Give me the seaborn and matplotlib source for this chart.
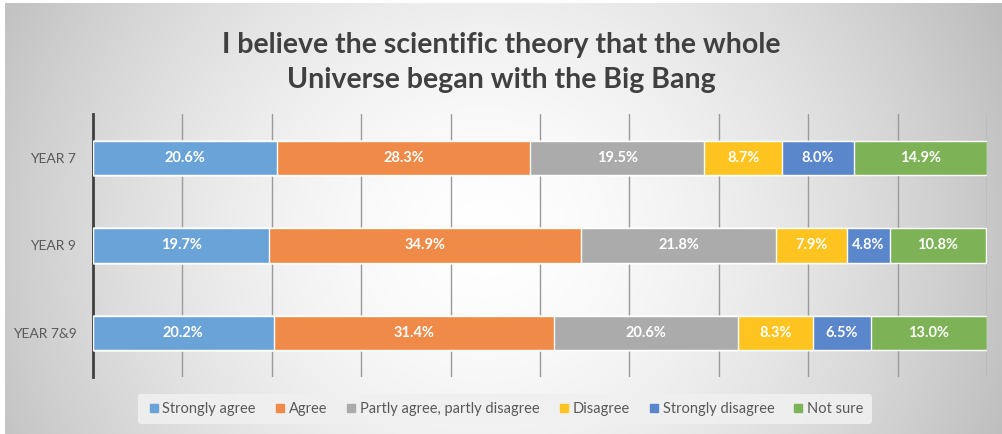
import numpy as np
import pandas as pd
import matplotlib
matplotlib.use("Agg")
import matplotlib.pyplot as plt
from matplotlib.lines import Line2D
import seaborn as sns

# Survey responses (% of students) per year group
groups = ["YEAR 7", "YEAR 9", "YEAR 7&9"]
responses = ["Strongly agree", "Agree", "Partly agree, partly disagree",
             "Disagree", "Strongly disagree", "Not sure"]
strongly_agree = [20.6, 19.7, 20.2]
agree = [28.3, 34.9, 31.4]
partly = [19.5, 21.8, 20.6]
disagree = [8.7, 7.9, 8.3]
strongly_disagree = [8.0, 4.8, 6.5]
not_sure = [14.9, 10.8, 13.0]
colors = ["#6aa3d8", "#ef8a48", "#ababab", "#ffc41f", "#5a86cc", "#7db356"]

series = [strongly_agree, agree, partly, disagree, strongly_disagree, not_sure]
df = pd.DataFrame({r: v for r, v in zip(responses, series)}, index=groups)
cum = df.cumsum(axis=1)

sns.set_theme(style="white")
plt.rcParams["font.family"] = ["Lato", "DejaVu Sans"]

W, H = 1003, 434
fig = plt.figure(figsize=(W / 100, H / 100), dpi=100)
fig.patch.set_facecolor("white")

# Radial grey backdrop behind the chart panel
bg = fig.add_axes([5 / W, 0, 1 - 5 / W, 1 - 3 / H], zorder=-10)
yy, xx = np.mgrid[0:431, 0:998]
r = np.hypot(xx - 480, (yy - 235) * 1.05)
shade = 255 - 60 * np.clip(r / 530, 0, 1.2) ** 1.6
shade = np.clip(shade, 188, 255) / 255
bg.imshow(np.dstack([shade] * 3), aspect="auto", extent=[0, 1, 0, 1], origin="upper")
bg.set_axis_off()

ax = fig.add_axes([93 / W, 1 - 377 / H, (987 - 93) / W, (377 - 114) / H])
ax.patch.set_alpha(0)

# Stacked bars: draw cumulative totals from the outermost segment inwards
for resp, col in reversed(list(zip(responses, colors))):
    sub = pd.DataFrame({"group": groups, "value": cum[resp].values})
    sns.barplot(data=sub, y="group", x="value", orient="h", color=col,
                width=0.39, saturation=1, edgecolor="white", linewidth=1.0,
                ax=ax, zorder=3)

# Segment value labels
for resp in responses:
    for i, g in enumerate(groups):
        v = df.loc[g, resp]
        ax.text(cum.loc[g, resp] - v / 2, i, f"{v:.1f}%", ha="center", va="center",
                color="white", fontsize=10.5, fontweight="bold", zorder=5)

ax.set_xlim(0, 100)
ax.set_ylim(2.5, -0.5)
ax.set_xticks(np.arange(0, 101, 10))
ax.set_xticklabels([])
ax.tick_params(axis="x", length=0)
ax.tick_params(axis="y", length=0, pad=12, labelsize=10, labelcolor="#595959")
ax.set_xlabel("")
ax.set_ylabel("")
ax.grid(axis="x", color="#9a9a9a", linewidth=1.0, zorder=0)
ax.set_axisbelow(True)
for s in ["top", "right", "bottom"]:
    ax.spines[s].set_visible(False)
ax.spines["left"].set_color("#404040")
ax.spines["left"].set_linewidth(2.0)

fig.text(0.5, 1 - 45 / H, "I believe the scientific theory that the whole",
         ha="center", va="center", fontsize=20.5, fontweight="bold", color="#404040")
fig.text(0.5, 1 - 80 / H, "Universe began with the Big Bang",
         ha="center", va="center", fontsize=20.5, fontweight="bold", color="#404040")

handles = [Line2D([], [], marker="s", linestyle="none", markersize=6,
                  markerfacecolor=c, markeredgecolor=c) for c in colors]
leg = fig.legend(handles, responses, loc="center", bbox_to_anchor=(505 / W, 1 - 409 / H),
                 ncol=6, frameon=True, fontsize=10.5, handletextpad=0.1,
                 columnspacing=1.15, handlelength=1.0, borderpad=0.55)
leg.get_frame().set_facecolor("#f0f0f0")
leg.get_frame().set_edgecolor("none")
leg.get_frame().set_alpha(0.9)
for t in leg.get_texts():
    t.set_color("#595959")

fig.savefig("out.png", dpi=100)
